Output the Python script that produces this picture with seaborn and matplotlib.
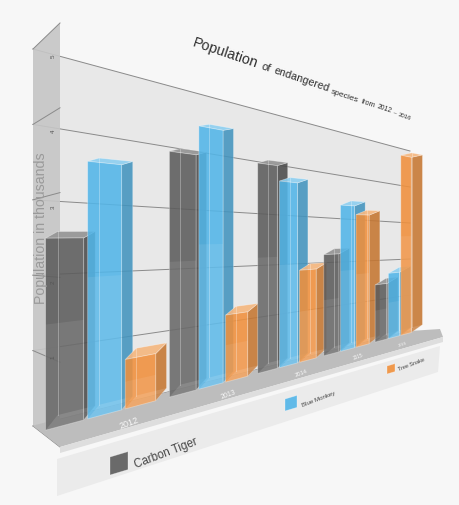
import numpy as np
import pandas as pd
import matplotlib
matplotlib.use("Agg")
import matplotlib.pyplot as plt
import matplotlib.transforms as mtransforms
from matplotlib.patches import Polygon
from matplotlib.colors import to_rgb
import seaborn as sns

# population in thousands
years = ["2012", "2013", "2014", "2015", "2016"]
species = ["Carbon Tiger", "Blue Monkey", "Tree Snake"]
carbon_tiger = [2.6, 4.0, 4.0, 2.2, 1.4]
blue_monkey = [3.7, 4.5, 3.7, 3.3, 1.65]
tree_snake = [0.75, 1.2, 1.9, 3.1, 4.7]
y_ticks = [1, 2, 3, 4, 5]
colors = ["#5c5c5c", "#52b5e8", "#f0903c"]

df = pd.DataFrame({
    "year": years * len(species),
    "species": np.repeat(species, len(years)),
    "population": carbon_tiger + blue_monkey + tree_snake,
})

FONT = ["Liberation Sans", "DejaVu Sans"]


# perspective helpers: (category, value) plane -> pixel
def homography(src, dst):
    A, b = [], []
    for (u, v), (x, y) in zip(src, dst):
        A.append([u, v, 1, 0, 0, 0, -u * x, -v * x])
        b.append(x)
        A.append([0, 0, 0, u, v, 1, -u * y, -v * y])
        b.append(y)
    h = np.linalg.solve(np.array(A, float), np.array(b, float))
    return np.append(h, 1.0).reshape(3, 3)


class Persp(mtransforms.Transform):
    input_dims = 2
    output_dims = 2

    def __init__(self, M):
        super().__init__()
        self.M = M

    def transform_non_affine(self, values):
        pts = np.asarray(values, float).reshape(-1, 2)
        h = np.column_stack([pts, np.ones(len(pts))]) @ self.M.T
        return h[:, :2] / h[:, 2:3]


def proj(M, u, v):
    return Persp(M).transform_non_affine(np.column_stack([np.atleast_1d(u), np.atleast_1d(v)]))


def wfac(M, u, v=0.0):
    return M[2, 0] * u + M[2, 1] * v + M[2, 2]


corners = [(-0.405, 0), (-0.405, 5), (4.195, 0), (4.195, 5)]
H_front = homography(corners, [(50, 430), (50, 63), (402, 336), (402, 145)])
H_back = homography(corners, [(62, 415), (62, 64), (413, 328), (413, 143)])
H_grid = homography([(0, 0), (0, 5), (1, 0), (1, 5)],
                    [(33, 427), (33, 50), (410, 332), (410, 152)])
near_x, near_base, near_step = 60, 448, 84.8

fig = plt.figure(figsize=(4.6, 5.06), dpi=100, facecolor="#f7f7f7")
ax = fig.add_axes([0, 0, 1, 1])
ax.set_facecolor("#f7f7f7")

sns.barplot(data=df, x="year", y="population", hue="species", order=years,
            hue_order=species, palette=colors, width=0.9, gap=0.1,
            saturation=1, errorbar=None, legend=False, ax=ax)

ax.set_xlim(0, 460)
ax.set_ylim(506, 0)
ax.axis("off")

# back wall and grid
wall = proj(H_grid, [0, 1, 1, 0], [0, 0, 5, 5])
ax.add_patch(Polygon(wall, closed=True, facecolor="#e8e8e8", edgecolor="none", zorder=1))
for v in range(0, 6):
    g = proj(H_grid, [0, 1], [v, v])
    ax.plot(g[:, 0], g[:, 1], color="#8a8a8a", lw=0.7, zorder=2)

# left wall
lw_back = proj(H_grid, [0, 0], [0, 5])
left_wall = [lw_back[1], (near_x, near_base - 5 * near_step), (near_x, near_base), lw_back[0]]
ax.add_patch(Polygon(left_wall, closed=True, facecolor="#c6c6c6", edgecolor="none",
                     alpha=0.9, zorder=3))
for v in range(0, 6):
    a = proj(H_grid, 0, v)[0]
    ax.plot([a[0], near_x], [a[1], near_base - v * near_step], color="#8a8a8a", lw=0.7, zorder=3)

# floor, its front edge and the legend band
gb = proj(H_grid, [0, 1], [0, 0])
floor = [gb[0], gb[1], (440, 330), (443, 338), (near_x, near_base)]
ax.add_patch(Polygon(floor, closed=True, facecolor="#bdbdbd", edgecolor="none", zorder=3))
ax.add_patch(Polygon([(near_x, near_base), (443, 338), (443, 343), (near_x, 454)], closed=True,
                     facecolor="#dedede", edgecolor="none", zorder=3))
ax.add_patch(Polygon([(57, 460), (440, 347), (438, 373), (57, 497)], closed=True,
                     facecolor="#ebebeb", edgecolor="none", zorder=2))

# bars: seaborn front faces put into perspective, plus top and side faces
tf_front = Persp(H_front) + ax.transData
for p in list(ax.patches):
    if not isinstance(p, matplotlib.patches.Rectangle):
        continue
    x0 = p.get_x()
    x1 = x0 + p.get_width()
    h = p.get_height()
    c = np.array(to_rgb(p.get_facecolor()))
    z = 10 + x0
    p.set_transform(tf_front)
    p.set_facecolor((*c, 0.88))
    p.set_edgecolor((1, 1, 1, 0.35))
    p.set_linewidth(0.6)
    p.set_zorder(z + 0.02)
    fl_b, fl_t, fr_b, fr_t = proj(H_front, [x0, x0, x1, x1], [0, h, 0, h])
    bl_b, bl_t, br_b, br_t = proj(H_back, [x0, x0, x1, x1], [0, h, 0, h])
    ax.add_patch(Polygon([fr_b, fr_t, br_t, br_b], closed=True, facecolor=(*(c * 0.82), 0.88),
                         edgecolor=(1, 1, 1, 0.3), lw=0.5, zorder=z))
    ax.add_patch(Polygon([fl_t, fr_t, br_t, bl_t], closed=True,
                         facecolor=(*(c + (1 - c) * 0.35), 0.92),
                         edgecolor=(1, 1, 1, 0.4), lw=0.5, zorder=z + 0.01))
    ax.plot([bl_b[0], bl_t[0]], [bl_b[1], bl_t[1]], color="white", alpha=0.35, lw=0.6, zorder=z + 0.03)
    # lighter lower half, glass look
    lo = proj(H_front, [x0, x1, x1, x0], [0, 0, h * 0.55, h * 0.55])
    ax.add_patch(Polygon(lo, closed=True, facecolor=(1, 1, 1, 0.08), edgecolor="none", zorder=z + 0.03))
    ax.add_patch(Polygon([fl_b, fr_b, br_b, bl_b], closed=True, facecolor=(1, 1, 1, 0.12),
                         edgecolor="none", zorder=z + 0.03))

renderer = fig.canvas.get_renderer()


def text_width(t):
    rot = t.get_rotation()
    t.set_rotation(0)
    wpx = t.get_window_extent(renderer).width
    t.set_rotation(rot)
    return wpx


# title, words shrinking along the perspective
angle = 18.7
ca, sa = np.cos(np.radians(angle)), np.sin(np.radians(angle))
uu = np.linspace(-1, 5, 601)
xx = proj(H_front, uu, np.zeros_like(uu))[:, 0]
x, y = 192.0, 46.0
w0 = wfac(H_front, np.interp(x, xx, uu))
for word in "Population of endangered species from 2012 – 2016".split(" "):
    size = 10.4 * (w0 / wfac(H_front, np.interp(x, xx, uu))) ** 2
    t = ax.text(x, y, word, fontsize=size, rotation=-angle, rotation_mode="anchor",
                ha="left", va="baseline", color="#2e2e2e", family=FONT, zorder=30)
    adv = text_width(t) + 0.3 * size * 100 / 72
    x += adv * ca
    y += adv * sa

# y axis label and ticks on the left wall
ax.text(41, 228, "Population in thousands", rotation=90, ha="center", va="center",
        fontsize=10.2, color="#9a9a9a", family=FONT, zorder=30)
for v in y_ticks:
    a = proj(H_grid, 0, v)[0]
    ax.text(a[0] + 20, a[1] + 6, str(v), rotation=90, ha="center", va="center",
            fontsize=4.5, color="#555555", family=FONT, zorder=30)

# year labels on the floor
for i, yr in enumerate(years):
    u = i + 0.2
    a, b = proj(H_front, [u - 0.1, u + 0.1], [-0.22, -0.22])
    ang = np.degrees(np.arctan2(a[1] - b[1], b[0] - a[0])) + 4
    size = 6.5 * (wfac(H_front, 0.2) / wfac(H_front, u)) ** 1.5
    ax.text((a[0] + b[0]) / 2, (a[1] + b[1]) / 2, yr, rotation=ang, rotation_mode="anchor",
            ha="center", va="center", fontsize=size, color="white", alpha=0.9,
            family=FONT, zorder=30)

# legend on the band
legend_pos = [(110, 458, 18, 8.3), (285, 400, 12, 4.4), (387, 367, 8, 4.0)]
for (lx, ly, s, fs), name, col in zip(legend_pos, species, colors):
    sk = s * 0.3
    c = np.array(to_rgb(col))
    ax.add_patch(Polygon([(lx, ly), (lx + s, ly - sk), (lx + s, ly - sk + s), (lx, ly + s)],
                         closed=True, facecolor=(*c, 0.9), edgecolor=(1, 1, 1, 0.4), lw=0.5,
                         zorder=20))
    ax.text(lx + s * 1.45, ly + s * 0.55, name, rotation=21, rotation_mode="anchor",
            ha="left", va="baseline", fontsize=fs, color="#444444", family=FONT, zorder=30)

plt.savefig("out.png", dpi=100, facecolor=fig.get_facecolor())
